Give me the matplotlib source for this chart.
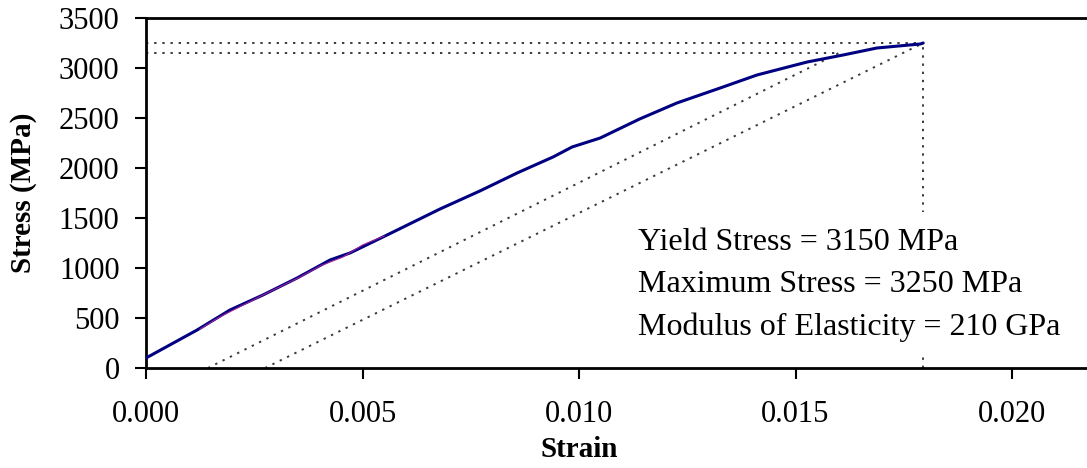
import matplotlib
matplotlib.use("Agg")
import matplotlib.pyplot as plt
from matplotlib.patches import Rectangle

# measured stress-strain curve
strain = [0.0, 0.00118, 0.00194, 0.0027, 0.00349, 0.00425, 0.00471, 0.00552,
          0.00679, 0.00771, 0.00857, 0.0094, 0.00984, 0.01049, 0.0114, 0.01226,
          0.01326, 0.01411, 0.01527, 0.0161, 0.01688, 0.01788, 0.01795]
stress = [100, 380, 580, 730, 900, 1080, 1150, 1320,
          1590, 1770, 1950, 2110, 2210, 2300, 2490, 2650,
          2800, 2930, 3060, 3130, 3200, 3240, 3250]

# highlighted part of the curve
hl_strain = [0.00125, 0.0017, 0.0027, 0.00356, 0.00402, 0.00455, 0.005, 0.0055]
hl_stress = [390, 510, 730, 910, 1020, 1110, 1230, 1320]

# offset construction lines (x-intercept -> end point)
offset1_strain = [0.00143, 0.0160]
offset1_stress = [0, 3150]
offset2_strain = [0.00275, 0.01795]
offset2_stress = [0, 3250]

yield_stress = 3150
max_stress = 3250
yield_strain = 0.0160
max_strain = 0.01795

notes = ["Yield Stress = 3150 MPa",
         "Maximum Stress = 3250 MPa",
         "Modulus of Elasticity = 210 GPa"]

plt.rcParams["font.family"] = ["Liberation Serif", "DejaVu Serif"]

fig = plt.figure(figsize=(10.87, 4.68), dpi=100)
ax = fig.add_axes([146 / 1087, 100 / 468, 952.6 / 1087, 350 / 468])

dot = dict(color="#3a3a3a", lw=1.4, linestyle=(0, (1.2, 3.0)), zorder=2)

ax.plot([0, max_strain], [max_stress, max_stress], **dot)
ax.plot([0, yield_strain], [yield_stress, yield_stress], **dot)
ax.plot([max_strain, max_strain], [0, max_stress], **dot)
ax.plot(offset1_strain, offset1_stress, **dot)
ax.plot(offset2_strain, offset2_stress, **dot)

ax.plot(strain, stress, color="#000080", lw=2.2, solid_capstyle="round",
        solid_joinstyle="round", zorder=4)
ax.plot(hl_strain, hl_stress, color="#a0209a", lw=0.8, zorder=5)

# white box behind the annotation block
ax.add_patch(Rectangle((0.0112, 160), 0.0097, 1400, facecolor="white",
                       edgecolor="none", zorder=3))
for i, line in enumerate(notes):
    ax.text(0.01136, 1250 - 420 * i, line, fontsize=23,
            ha="left", va="center", zorder=6)

ax.set_xlim(0, 0.022)
ax.set_ylim(0, 3500)
ax.set_xticks([0, 0.005, 0.010, 0.015, 0.020])
ax.set_xticklabels(["0.000", "0.005", "0.010", "0.015", "0.020"])
ax.set_yticks(range(0, 3501, 500))

ax.tick_params(axis="both", labelsize=22, width=1.5, length=8, direction="out")
ax.tick_params(axis="x", pad=15)
ax.tick_params(axis="y", pad=11)

for side in ["left", "bottom", "top", "right"]:
    ax.spines[side].set_linewidth(2)

ax.set_xlabel("Strain", fontsize=21, fontweight="bold")
ax.set_ylabel("Stress (MPa)", fontsize=21, fontweight="bold")
ax.xaxis.set_label_coords(0.01 / 0.022, -0.195)
ax.yaxis.set_label_coords(-0.1144, 0.5)

fig.savefig("out.png", dpi=100)
